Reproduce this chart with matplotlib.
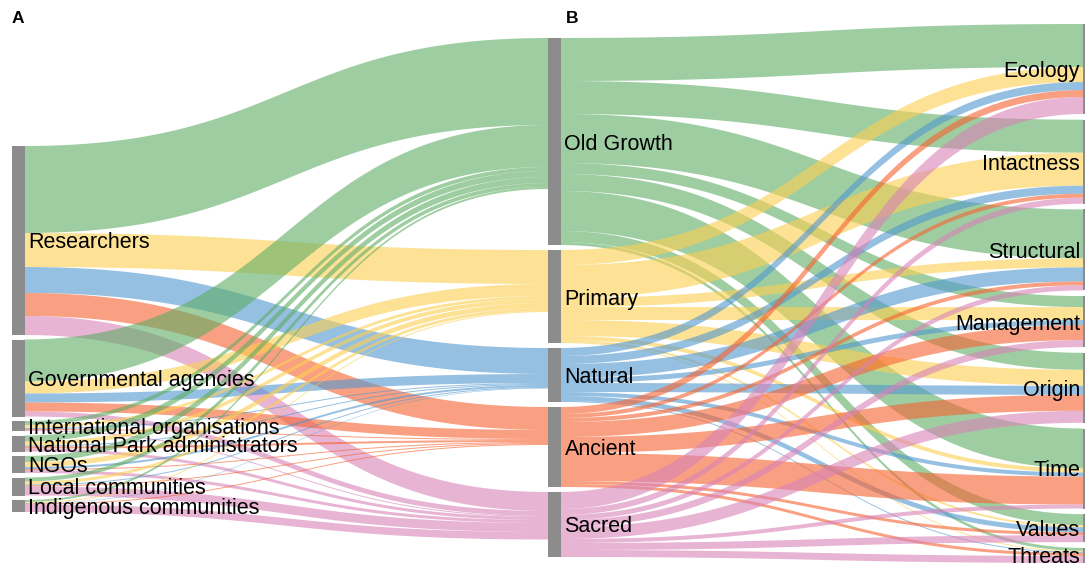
import numpy as np
import matplotlib
matplotlib.use("Agg")
import matplotlib.pyplot as plt
from matplotlib.patches import Polygon, Rectangle

# ---------------- data ----------------
sources = ["Researchers", "Governmental agencies", "International organisations",
           "National Park administrators", "NGOs", "Local communities",
           "Indigenous communities"]
terms = ["Old Growth", "Primary", "Natural", "Ancient", "Sacred"]
criteria = ["Ecology", "Intactness", "Structural", "Management", "Origin",
            "Time", "Values", "Threats"]

# flows source -> term (one list per term, entries follow `sources`)
src_old_growth = [87, 42, 4, 6, 6, 4, 2]
src_primary = [34, 12, 3, 4, 5, 3, 1]
src_natural = [26, 9, 1, 1, 2, 1, 0.5]
src_ancient = [23, 9, 1, 2, 1, 1, 1]
src_sacred = [19, 5, 1, 3, 3, 9, 7.5]

# flows term -> criterion (one list per term, entries follow `criteria`)
old_growth_crit = [43, 33, 49, 11, 17, 40, 11, 3]
primary_crit = [15, 33, 9, 13, 16, 4, 2, 1]
natural_crit = [8, 8, 14, 5, 9, 4, 5, 1]
ancient_crit = [7, 4, 4, 15, 16, 28, 3, 3]
sacred_crit = [17, 6, 5, 7, 12, 4, 7, 7]

# ---------------- styles / layout ----------------
term_colors = ["#5dad64", "#fcd050", "#5096cf", "#f8612f", "#d982b7"]
link_alpha = 0.6
node_color = "#8c8c8c"
FONT = "Liberation Sans"
FS = 15.5

W, H = 1085, 563
col_x = [12, 548, 1083]
node_w = 12.5
col_top = [146, 38, 24]
col_gap = [4.5, 5.0, 5.7]

S = np.array([src_old_growth, src_primary, src_natural, src_ancient, src_sacred]).T  # sources x terms
T = np.array([old_growth_crit, primary_crit, natural_crit, ancient_crit, sacred_crit])  # terms x criteria

left_vals = S.sum(axis=1)
mid_vals = np.maximum(S.sum(axis=0), T.sum(axis=1))
right_vals = T.sum(axis=0)


def stack(vals, top, gap):
    tops = []
    y = top
    for v in vals:
        tops.append(y)
        y += v + gap
    return np.array(tops)


left_top = stack(left_vals, col_top[0], col_gap[0])
mid_top = stack(mid_vals, col_top[1], col_gap[1])
right_top = stack(right_vals, col_top[2], col_gap[2])

fig = plt.figure(figsize=(W / 100, H / 100), dpi=100)
ax = fig.add_axes([0, 0, 1, 1])
ax.set_xlim(0, W)
ax.set_ylim(H, 0)
ax.axis("off")

tt = np.linspace(0, 1, 80)
ease = 3 * tt ** 2 - 2 * tt ** 3


def band(x0, x1, y0, y1, w, color):
    xm = (x0 + x1) / 2
    bx = (1 - tt) ** 3 * x0 + 3 * (1 - tt) ** 2 * tt * xm + 3 * (1 - tt) * tt ** 2 * xm + tt ** 3 * x1
    top = y0 + (y1 - y0) * ease
    pts = np.concatenate([np.column_stack([bx, top]),
                          np.column_stack([bx[::-1], (top + w)[::-1]])])
    ax.add_patch(Polygon(pts, closed=True, facecolor=color, alpha=link_alpha,
                         edgecolor="none", linewidth=0))


# stage 1: sources -> terms
out_off = left_top.copy()
for i in range(len(sources)):
    for j in range(len(terms)):
        v = S[i, j]
        if v <= 0:
            continue
        y_in = mid_top[j] + S[:i, j].sum()
        band(col_x[0] + node_w, col_x[1], out_off[i], y_in, v, term_colors[j])
        out_off[i] += v

# stage 2: terms -> criteria
for j in range(len(terms)):
    off = mid_top[j]
    for k in range(len(criteria)):
        v = T[j, k]
        if v <= 0:
            continue
        y_in = right_top[k] + T[:j, k].sum()
        band(col_x[1] + node_w, col_x[2], off, y_in, v, term_colors[j])
        off += v

# nodes
for tops, vals, x in [(left_top, left_vals, col_x[0]), (mid_top, mid_vals, col_x[1]),
                      (right_top, right_vals, col_x[2])]:
    for t0, v in zip(tops, vals):
        ax.add_patch(Rectangle((x, t0), node_w, v, facecolor=node_color,
                               edgecolor="none"))

# labels
for name, t0, v in zip(sources, left_top, left_vals):
    ax.text(col_x[0] + node_w + 4, t0 + v / 2, name, fontsize=FS, family=FONT,
            ha="left", va="center_baseline", color="black")
for name, t0, v in zip(terms, mid_top, mid_vals):
    ax.text(col_x[1] + node_w + 4, t0 + v / 2, name, fontsize=FS, family=FONT,
            ha="left", va="center_baseline", color="black")
for name, t0, v in zip(criteria, right_top, right_vals):
    ax.text(col_x[2] - 3, t0 + v / 2, name, fontsize=FS, family=FONT,
            ha="right", va="center_baseline", color="black")

ax.text(12, 18.5, "A", fontsize=12.5, family=FONT, fontweight="bold", ha="left", va="center")
ax.text(566, 18.5, "B", fontsize=12.5, family=FONT, fontweight="bold", ha="left", va="center")

fig.savefig("out.png", dpi=100)
